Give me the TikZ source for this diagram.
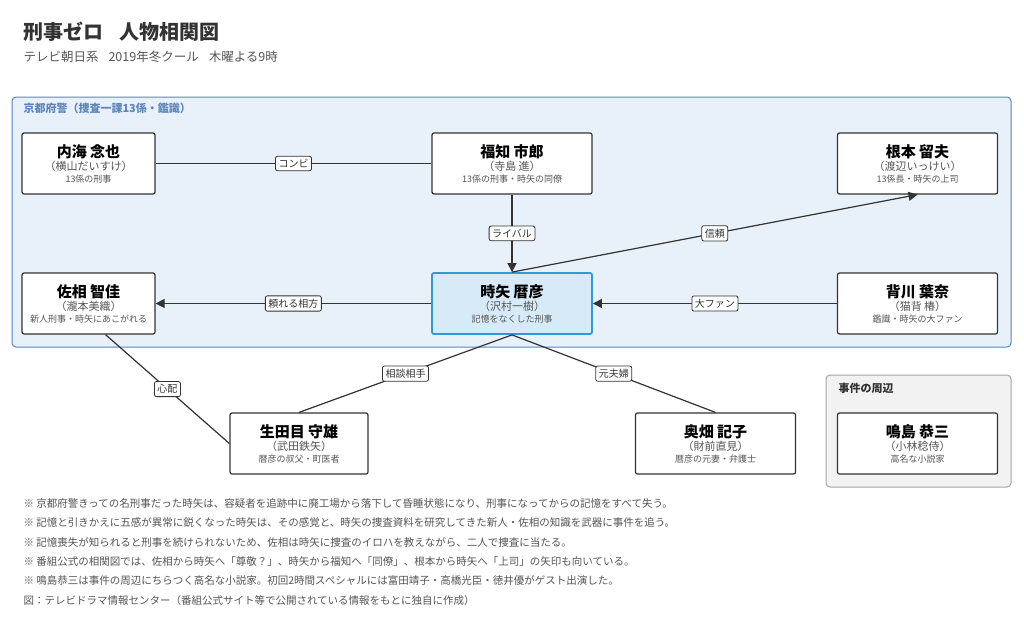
\documentclass[tikz,border=0pt]{standalone}
\usepackage{fontspec}
\setmainfont{Noto Sans CJK JP}
\usetikzlibrary{arrows.meta}
\definecolor{grp}{HTML}{E8F0FA}
\definecolor{grpb}{HTML}{5B87BD}
\definecolor{gtxt}{HTML}{555555}
\definecolor{dk}{HTML}{333333}
\definecolor{hl}{HTML}{D6EAF8}
\definecolor{hlb}{HTML}{2E9BD6}
\begin{document}
\begin{tikzpicture}[x=1pt,y=-1pt,
 person/.style={draw=dk,line width=1.2pt,fill=white,rounded corners=2pt,minimum width=133pt,minimum height=61pt,align=center,inner sep=0pt},
 wide/.style={minimum width=160pt},
 lbl/.style={draw=dk,line width=0.8pt,fill=white,rounded corners=2pt,font=\fontsize{10}{12}\selectfont,text=dk,inner sep=3pt},
 edge/.style={draw=dk,line width=1.2pt},
 arr/.style={edge,-{Triangle[length=9pt,width=9pt]}},
 note/.style={anchor=west,font=\fontsize{10.5}{12}\selectfont,text=gtxt}]
\useasboundingbox (0,0) rectangle (1024,627);
\fill[white] (0,0) rectangle (1024,627);
\node[anchor=west,font=\fontsize{20}{24}\selectfont\bfseries,text=dk] (title) at (20,32) {刑事ゼロ\hspace{0.8em}人物相関図};
\node[anchor=west,font=\fontsize{12.5}{15}\selectfont,text=gtxt] (sub) at (20,57) {テレビ朝日系\hspace{0.8em}2019年冬クール\hspace{0.8em}木曜よる9時};
\draw[fill=grp,draw=grpb,line width=1pt,rounded corners=4pt] (12,97) rectangle (1011,347);
\node[anchor=west,font=\fontsize{11}{13}\selectfont\bfseries,text=grpb] (g1) at (20,108) {京都府警（捜査一課13係・鑑識）};
\draw[fill=gray!10,draw=gray!70,line width=1pt,rounded corners=4pt] (826,375) rectangle (1011,487);
\node[anchor=west,font=\fontsize{11}{13}\selectfont\bfseries,text=dk] (g2) at (835,388) {事件の周辺};
\newcommand{\ptext}[3]{{\fontsize{15}{18}\selectfont\bfseries #1}\\[1pt]{\fontsize{11}{13}\selectfont\color{gtxt}（#2）}\\{\fontsize{9}{11}\selectfont\color{gtxt}#3}}
\node[person] (uchi) at (88.5,163.5) {\ptext{内海 念也}{横山だいすけ}{13係の刑事}};
\node[person,wide] (fuku) at (512,163.5) {\ptext{福知 市郎}{寺島 進}{13係の刑事・時矢の同僚}};
\node[person,wide] (nemo) at (917.5,163.5) {\ptext{根本 留夫}{渡辺いっけい}{13係長・時矢の上司}};
\node[person] (saso) at (88.5,303.5) {\ptext{佐相 智佳}{瀧本美織}{新人刑事・時矢にあこがれる}};
\node[person,wide,fill=hl,draw=hlb,line width=1.8pt] (toki) at (512,303.5) {\ptext{時矢 暦彦}{沢村一樹}{記憶をなくした刑事}};
\node[person,wide] (sega) at (917.5,303.5) {\ptext{背川 葉奈}{猫背 椿}{鑑識・時矢の大ファン}};
\node[person,minimum width=138pt] (nama) at (299,443.5) {\ptext{生田目 守雄}{武田鉄矢}{暦彦の叔父・町医者}};
\node[person,wide] (oku) at (715.5,443.5) {\ptext{奥畑 記子}{財前直見}{暦彦の元妻・弁護士}};
\node[person,wide] (naru) at (917.5,443.5) {\ptext{鳴島 恭三}{小林稔侍}{高名な小説家}};
\draw[edge] (uchi) -- node[lbl]{コンビ} (fuku);
\draw[arr] (fuku) -- node[lbl]{ライバル} (toki);
\draw[arr] (toki.north) -- node[lbl,pos=0.5]{信頼} (nemo.south);
\draw[arr] (toki) -- node[lbl]{頼れる相方} (saso);
\draw[arr] (sega) -- node[lbl]{大ファン} (toki);
\draw[edge] ([xshift=17pt]saso.south) -- node[lbl]{心配} (nama.west);
\draw[edge] (toki.south) -- node[lbl]{相談相手} (nama.north);
\draw[edge] (toki.south) -- node[lbl]{元夫婦} (oku.north);
\node[note] (n1) at (20,503) {※ 京都府警きっての名刑事だった時矢は、容疑者を追跡中に廃工場から落下して昏睡状態になり、刑事になってからの記憶をすべて失う。};
\node[note] (n2) at (20,522.5) {※ 記憶と引きかえに五感が異常に鋭くなった時矢は、その感覚と、時矢の捜査資料を研究してきた新人・佐相の知識を武器に事件を追う。};
\node[note] (n3) at (20,542) {※ 記憶喪失が知られると刑事を続けられないため、佐相は時矢に捜査のイロハを教えながら、二人で捜査に当たる。};
\node[note] (n4) at (20,561.5) {※ 番組公式の相関図では、佐相から時矢へ「尊敬？」、時矢から福知へ「同僚」、根本から時矢へ「上司」の矢印も向いている。};
\node[note] (n5) at (20,581) {※ 鳴島恭三は事件の周辺にちらつく高名な小説家。初回2時間スペシャルには富田靖子・高橋光臣・徳井優がゲスト出演した。};
\node[note] (n6) at (20,600) {図：テレビドラマ情報センター（番組公式サイト等で公開されている情報をもとに独自に作成）};
\end{tikzpicture}
\end{document}
